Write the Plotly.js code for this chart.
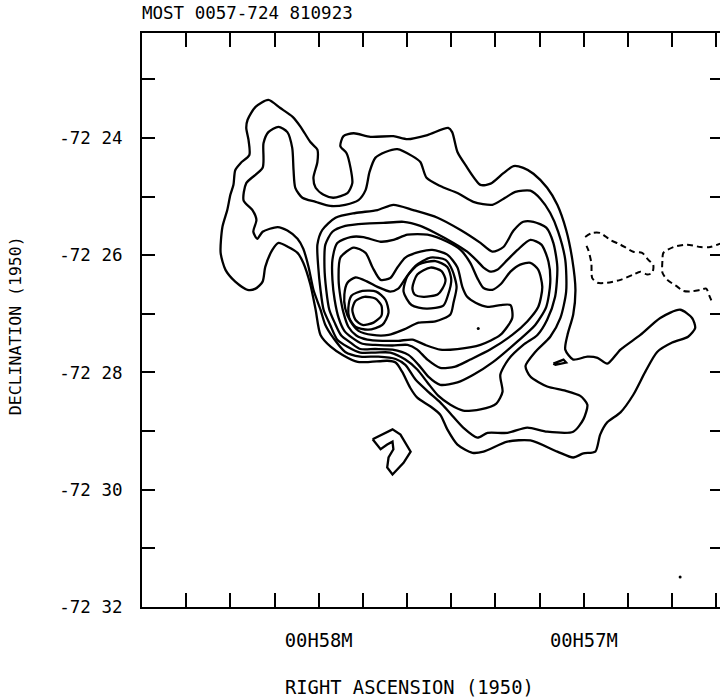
<!DOCTYPE html>
<html>
<head>
<meta charset="utf-8">
<script src="https://cdn.plot.ly/plotly-3.0.1.min.js"></script>
<style>html,body{margin:0;padding:0;overflow:hidden;background:#fff}</style>
</head>
<body>
<div id="chart" style="width:730px;height:700px"></div>
<script>
// RA in seconds of time after 00h57m (1950), Dec in arcmin south of -72 deg (1950)
const c1_ra = [71.4,68.7,65.9,64.1,61.9,60.3,60.3,61.2,60.7,58.9,56.7,53.5,52.4,52.8,53.7,55.1,54.4,52.1,48.3,43.1,39.9,35.4,30.7,29.8,28.6,26.8,23.4,21.1,18.2,15.9,13.7,11.4,8.3,6.0,4.0,2.6,1.9,2.4,3.7,4.2,2.4,-0.8,-3.1,-5.3,-8.3,-12.8,-17.3,-21.8,-24.5,-25.2,-23.6,-20.0,-16.6,-13.9,-11.2,-8.3,-5.3,-3.7,-2.6,0.1,2.4,6.0,12.1,17.3,22.7,25.2,28.6,30.9,32.5,34.7,37.7,39.3,41.1,42.6,44.5,48.3,51.2,54.6,57.3,59.6,60.7,61.9,63.5,64.8,66.9,69.1,70.5,72.1,72.7,74.3,76.1,78.9,81.1,82.2,81.8,80.7,80.0,79.3,78.9,77.7,75.7,75.9,76.4,76.1,74.3,71.4];
const c1_dec = [23.35,23.49,23.64,23.81,24.07,24.20,24.41,24.68,24.85,24.97,25.02,24.94,24.77,24.51,24.26,24.14,23.97,23.92,23.98,23.97,24.02,23.95,23.83,23.90,24.24,24.46,24.80,24.78,24.60,24.48,24.51,24.61,24.85,25.14,25.57,26.08,26.59,27.01,27.36,27.61,27.78,27.73,27.75,27.85,27.61,27.36,27.07,26.93,27.07,27.24,27.39,27.49,27.65,27.99,28.38,28.68,28.85,29.06,29.35,29.38,29.45,29.35,29.16,29.18,29.35,29.37,29.23,28.97,28.72,28.58,28.43,28.26,27.99,27.83,27.80,27.82,27.82,27.70,27.56,27.36,26.93,26.50,26.13,25.96,25.86,25.79,25.91,26.20,26.45,26.57,26.59,26.45,26.25,25.96,25.52,25.23,24.97,24.80,24.55,24.43,24.29,24.03,23.83,23.69,23.47,23.35];

const c2_ra = [69.1,67.1,66.0,65.7,65.3,63.7,60.7,57.4,54.0,51.0,49.4,48.5,47.2,44.9,42.2,38.8,37.0,35.6,32.5,28.6,25.0,20.7,17.8,15.5,12.1,9.8,7.6,5.8,4.2,4.0,5.3,7.6,11.0,13.2,12.1,8.3,4.2,0.8,-0.8,0.1,2.4,8.3,12.8,17.3,21.8,24.1,27.3,30.2,32.5,35.2,38.1,40.4,42.6,46.5,50.6,54.0,56.7,58.5,59.6,61.2,62.3,63.5,64.8,67.1,69.3,72.7,73.9,74.8,74.1,75.0,77.0,76.4,72.7,72.5,71.4,69.1];
const c2_dec = [23.81,23.90,24.17,24.55,24.85,25.02,25.09,25.16,25.14,25.06,24.89,24.58,24.34,24.24,24.19,24.31,24.41,24.68,24.82,24.94,25.09,25.14,25.02,24.92,24.90,25.04,25.28,25.60,26.08,26.62,27.07,27.39,27.65,27.89,28.07,28.24,28.31,28.40,28.55,28.80,29.01,29.01,28.94,29.03,29.03,29.11,28.94,28.70,28.51,28.33,28.12,27.87,27.77,27.73,27.73,27.65,27.41,27.19,26.93,26.59,26.20,25.89,25.72,25.58,25.52,25.60,25.72,25.60,25.40,25.23,25.07,24.77,24.51,24.09,23.90,23.81];

const c3_ra = [60.3,59.2,56.2,51.7,46.7,43.1,38.6,33.1,27.9,23.4,20.7,18.2,15.9,13.7,11.4,8.5,6.9,6.0,6.5,8.3,10.5,13.7,17.1,18.9,18.4,19.8,23.4,27.3,30.2,32.9,35.4,37.7,40.4,43.8,47.2,50.6,53.5,55.8,57.4,58.9,59.6,60.1,60.3];
const c3_dec = [25.82,25.57,25.36,25.28,25.23,25.14,25.23,25.36,25.57,25.79,25.94,25.86,25.58,25.43,25.43,25.53,25.79,26.20,26.71,27.10,27.36,27.53,27.78,28.04,28.33,28.53,28.63,28.65,28.55,28.40,28.17,27.95,27.78,27.66,27.66,27.66,27.56,27.44,27.19,26.93,26.59,26.21,25.82];

const c4_ra = [58.5,56.9,54.0,49.4,45.4,40.8,37.0,33.6,29.5,26.4,24.1,22.7,21.1,19.6,17.3,15.0,12.1,9.6,8.0,7.6,8.5,11.0,15.0,20.5,25.0,28.6,32.5,35.2,37.4,39.7,43.3,47.2,50.6,52.8,54.9,56.4,57.6,58.3,58.7,58.5];
const c4_dec = [25.82,25.60,25.50,25.46,25.45,25.43,25.50,25.62,25.79,25.94,26.10,26.21,26.28,26.25,26.08,25.91,25.74,25.82,26.11,26.47,26.88,27.19,27.47,27.82,28.04,28.17,28.21,28.07,27.87,27.70,27.61,27.60,27.60,27.49,27.37,27.15,26.93,26.59,26.21,25.82];

const c5_ra = [56.9,55.8,52.8,49.9,46.0,43.1,39.9,35.4,30.9,27.9,25.7,24.1,22.7,20.7,18.9,16.6,14.4,12.1,10.3,9.4,10.3,12.8,16.2,21.2,25.7,29.1,32.5,35.4,37.7,39.9,43.3,47.2,50.1,52.4,54.2,55.5,56.4,56.9,56.9];
const c5_dec = [26.08,25.79,25.69,25.69,25.77,25.74,25.65,25.65,25.77,25.91,26.13,26.39,26.56,26.59,26.50,26.28,26.16,26.13,26.25,26.54,26.88,27.13,27.36,27.61,27.78,27.90,27.92,27.78,27.61,27.53,27.54,27.53,27.51,27.41,27.29,27.07,26.76,26.42,26.08];

const c6_ra = [55.5,55.1,52.1,49.4,47.8,46.0,43.8,42.2,40.4,37.0,34.3,30.9,28.6,27.5,26.4,24.5,21.8,18.9,16.6,16.2,18.9,23.4,28.6,32.5,35.9,38.8,42.0,45.6,49.0,51.5,53.3,54.4,55.1,55.5];
const c6_dec = [26.42,26.04,25.87,25.96,26.21,26.42,26.39,26.21,26.04,25.94,25.91,25.99,26.21,26.54,26.71,26.81,26.88,26.85,26.85,27.07,27.36,27.53,27.60,27.61,27.53,27.44,27.46,27.46,27.44,27.37,27.22,26.98,26.71,26.42];

const c7_ra = [54.2,53.5,51.7,49.0,46.7,43.8,42.0,40.4,38.1,34.7,31.3,29.8,28.8,29.5,30.2,33.6,37.4,40.8,44.2,47.8,51.0,52.8,54.0,54.2];
const c7_dec = [26.67,26.47,26.38,26.45,26.54,26.62,26.57,26.40,26.18,26.04,26.08,26.25,26.54,26.81,27.01,27.13,27.15,27.27,27.36,27.36,27.29,27.13,26.91,26.67];

const c8w_ra = [53.3,52.6,50.1,47.0,44.9,44.2,45.6,48.8,51.7,53.1,53.3];
const c8w_dec = [26.90,26.69,26.61,26.62,26.76,26.98,27.19,27.27,27.22,27.07,26.90];
const c9w_ra = [52.4,51.7,49.7,47.2,45.8,45.8,47.6,50.1,51.7,52.4];
const c9w_dec = [26.93,26.78,26.71,26.74,26.86,27.03,27.15,27.19,27.10,26.93];
const c8e_ra = [40.8,39.9,37.4,33.6,30.9,30.0,30.7,31.8,35.6,39.0,40.8];
const c8e_dec = [26.62,26.35,26.16,26.10,26.20,26.42,26.67,26.86,26.91,26.85,26.62];
const c9e_ra = [38.8,37.7,34.7,32.2,31.3,32.0,33.1,36.3,38.3,38.8];
const c9e_dec = [26.56,26.33,26.21,26.27,26.42,26.57,26.67,26.71,26.67,26.56];

const hook_ra = [47.8,43.3,41.5,39.2,40.8,43.3,44.5,44.2,43.1,43.3,44.5,46.0,47.8];
const hook_dec = [29.14,28.97,29.06,29.35,29.54,29.74,29.62,29.45,29.31,29.18,29.23,29.31,29.14];
const tri_ra = [6.9,4.6,4.0,6.4,6.9];
const tri_dec = [27.85,27.78,27.83,27.87,27.85];

// negative (dashed) contours
const n1_ra = [-0.3,-1.9,-3.7,-6.0,-8.3,-11.2,-13.2,-14.6,-15.7,-15.5,-14.4,-12.8,-11.2,-8.3,-5.3,-3.1,-1.9,-1.7,-1.0,-0.3];
const n1_dec = [25.69,25.62,25.62,25.74,25.82,25.94,25.96,26.08,26.16,26.30,26.33,26.28,26.33,26.42,26.47,26.47,26.39,26.13,25.91,25.79];
const n2_ra = [-31.3,-28.6,-26.4,-23.4,-20.3,-18.0,-17.8,-17.8,-18.9,-21.2,-22.5,-24.1,-26.4,-27.7,-28.4,-29.1];
const n2_dec = [25.79,25.86,25.86,25.82,25.86,25.96,26.08,26.30,26.42,26.54,26.61,26.62,26.59,26.57,26.69,26.81];

const dots_ra = [23.9,-21.8];
const dots_dec = [27.25,31.49];

const raTicks = [-30,-20,-10,0,10,20,30,40,50,60,70,80,90,100];
const raLabels = ['','','','00H57M','','','','','','00H58M','','','',''];
const decTicks = [23,24,25,26,27,28,29,30,31,32];
const decLabels = ['','-72 24','','-72 26','','-72 28','','-72 30','','-72 32'];

function solid(x, y, shape) {
  return {x: x, y: y, type: 'scatter', mode: 'lines', hoverinfo: 'skip',
    line: {color: '#000', width: 2.3, shape: shape || 'spline', smoothing: 0.7}};
}
function dashed(x, y) {
  return {x: x, y: y, type: 'scatter', mode: 'lines', hoverinfo: 'skip',
    line: {color: '#000', width: 2, dash: '6px,4px', shape: 'spline', smoothing: 0.7}};
}

const traces = [
  solid(c1_ra, c1_dec), solid(c2_ra, c2_dec), solid(c3_ra, c3_dec),
  solid(c4_ra, c4_dec), solid(c5_ra, c5_dec), solid(c6_ra, c6_dec),
  solid(c7_ra, c7_dec), solid(c8w_ra, c8w_dec), solid(c9w_ra, c9w_dec),
  solid(c8e_ra, c8e_dec), solid(c9e_ra, c9e_dec),
  solid(hook_ra, hook_dec, 'linear'), solid(tri_ra, tri_dec, 'linear'),
  dashed(n1_ra, n1_dec), dashed(n2_ra, n2_dec),
  {x: dots_ra, y: dots_dec, type: 'scatter', mode: 'markers', hoverinfo: 'skip',
   marker: {color: '#000', size: 3}}
];

const FONT = 'DejaVu Sans Mono, monospace';
const layout = {
  width: 730, height: 700,
  margin: {l: 142, r: 7, t: 33, b: 93},
  paper_bgcolor: '#fff', plot_bgcolor: '#fff',
  showlegend: false,
  font: {family: FONT, color: '#000', size: 17},
  title: {text: 'MOST 0057-724 810923', xref: 'paper', x: 0, xanchor: 'left',
          yref: 'container', y: 0.982, yanchor: 'middle',
          font: {family: FONT, size: 17.5, color: '#000'}},
  xaxis: {range: [100, -31.5], showgrid: false, zeroline: false,
          showline: true, linecolor: '#000', linewidth: 2, mirror: 'ticks',
          ticks: 'inside', ticklen: 14, tickwidth: 2, tickcolor: '#000',
          tickmode: 'array', tickvals: raTicks, ticktext: raLabels,
          ticklabelstandoff: 15, tickfont: {family: FONT, size: 18.8, color: '#000'}},
  yaxis: {range: [32.0, 22.21], showgrid: false, zeroline: false,
          showline: true, linecolor: '#000', linewidth: 2, mirror: 'ticks',
          ticks: 'inside', ticklen: 13, tickwidth: 2, tickcolor: '#000',
          tickmode: 'array', tickvals: decTicks, ticktext: decLabels,
          ticklabelstandoff: 14, tickfont: {family: FONT, size: 17.5, color: '#000'}},
  annotations: [
    {text: 'RIGHT ASCENSION (1950)', xref: 'paper', yref: 'paper', x: 0.4596, y: -0.141,
     xanchor: 'center', yanchor: 'middle', showarrow: false,
     font: {family: FONT, size: 18.8, color: '#000'}},
    {text: 'DECLINATION (1950)', xref: 'paper', yref: 'paper', x: -0.2186, y: 0.491,
     xanchor: 'center', yanchor: 'middle', showarrow: false, textangle: -90,
     font: {family: FONT, size: 16.5, color: '#000'}}
  ]
};

Plotly.newPlot('chart', traces, layout, {staticPlot: true, displayModeBar: false});
</script>
</body>
</html>
